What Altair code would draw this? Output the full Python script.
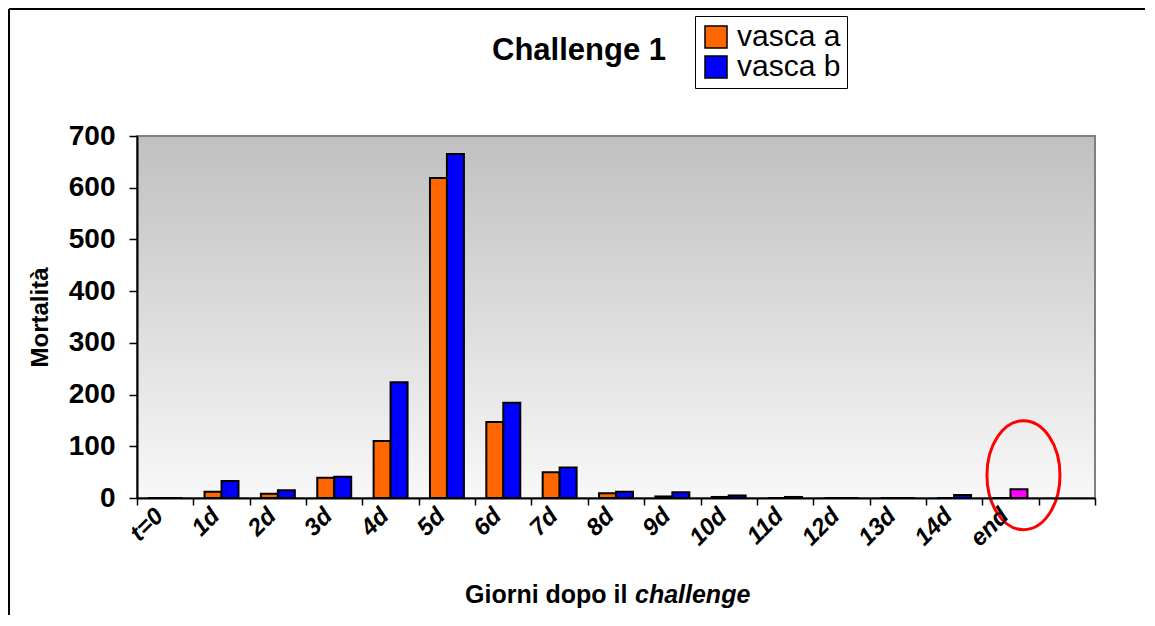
import altair as alt
import pandas as pd

# ---- data ----
categories = ["t=0", "1d", "2d", "3d", "4d", "5d", "6d", "7d", "8d", "9d",
              "10d", "11d", "12d", "13d", "14d", "end", " "]
vasca_a = [0, 12, 8, 39, 110, 619, 147, 50, 9, 3, 2, 0, 0, 0, 0, 0]
vasca_b = [0, 33, 15, 41, 224, 665, 184, 59, 12, 11, 5, 2, 0, 0, 6, 17]
series = ["vasca a", "vasca b"]
highlight_cat = "end"          # bar of "vasca b" drawn in magenta
highlight_key = "evidenziato"
colors = ["#ff6600", "#0000ff", "#ff00ff"]
y_ticks = [0, 100, 200, 300, 400, 500, 600, 700]
circle_cat = ["end"]
circle_val = [44]

FONT = "Liberation Sans"
W, H = 958, 362

rows = []
for cat, a, b in zip(categories, vasca_a, vasca_b):
    rows.append({"cat": cat, "serie": "vasca a", "key": "vasca a", "value": a})
    kb = highlight_key if cat == highlight_cat else "vasca b"
    rows.append({"cat": cat, "serie": "vasca b", "key": kb, "value": b})
df = pd.DataFrame(rows)

x_enc = alt.X("cat:N",
              scale=alt.Scale(domain=categories, paddingInner=0, paddingOuter=0),
              axis=alt.Axis(title=None, labelAngle=-45, labelAlign="right",
                            labelBaseline="middle", labelFont=FONT, labelFontSize=24,
                            labelFontWeight="bold", labelFontStyle="italic",
                            labelColor="black", labelPadding=7, labelOffset=-6,
                            ticks=True, tickBand="extent",
                            tickSize=7, tickWidth=1.5, tickColor="black",
                            domainColor="black", domainWidth=2, grid=False, zindex=1))
y_enc = alt.Y("value:Q",
              scale=alt.Scale(domain=[0, 700], nice=False),
              axis=alt.Axis(values=y_ticks, title="Mortalità", titleFont=FONT,
                            titleFontSize=24, titleFontWeight="bold", titleColor="black",
                            titlePadding=16, labelFont=FONT, labelFontSize=28,
                            labelFontWeight="bold", labelColor="black", labelPadding=14,
                            ticks=True, tickSize=8, tickWidth=1.5, tickColor="black",
                            domainColor="black", domainWidth=2, grid=False, zindex=1))

background = alt.Chart(pd.DataFrame({"a": [0]})).mark_rect(
    fill=alt.LinearGradient(gradient="linear",
                            stops=[alt.GradientStop(offset=0, color="#c0c0c0"),
                                   alt.GradientStop(offset=1, color="#f8f8f8")],
                            x1=0, x2=0, y1=0, y2=1),
    stroke="#808080", strokeWidth=2
).encode(x=alt.value(0), x2=alt.value(W), y=alt.value(0), y2=alt.value(H))

bars = alt.Chart(df).mark_bar(stroke="black", strokeWidth=2).encode(
    x=x_enc,
    xOffset=alt.XOffset("serie:N", scale=alt.Scale(domain=series, paddingInner=0,
                                                   paddingOuter=0.66)),
    y=y_enc,
    color=alt.Color("key:N",
                    scale=alt.Scale(domain=series + [highlight_key], range=colors),
                    legend=alt.Legend(values=series, title=None, orient="none",
                                      legendX=558, legendY=-120, strokeColor="black",
                                      fillColor="white", padding=6, symbolType="square",
                                      symbolSize=484, symbolStrokeColor="black",
                                      symbolStrokeWidth=1.5, labelFont=FONT,
                                      labelFontSize=30, labelColor="black",
                                      rowPadding=0, labelOffset=6)),
)

ellipse = alt.Chart(pd.DataFrame({"cat": circle_cat, "value": circle_val})).mark_point(
    shape="M -0.67 0 A 0.67 1 0 1 1 0.67 0 A 0.67 1 0 1 1 -0.67 0 Z",
    size=11881, filled=False, stroke="#ff0000", strokeWidth=3, opacity=1, xOffset=13
).encode(x=alt.X("cat:N"), y=alt.Y("value:Q"))

title = alt.Chart(pd.DataFrame({"t": ["Challenge 1"]})).mark_text(
    font=FONT, fontSize=31, fontWeight="bold", color="black", align="left",
    baseline="alphabetic"
).encode(text="t:N", x=alt.value(355), y=alt.value(-76))

xt1 = alt.Chart(pd.DataFrame({"t": ["Giorni dopo il"]})).mark_text(
    font=FONT, fontSize=25, fontWeight="bold", color="black", align="left",
    baseline="alphabetic"
).encode(text="t:N", x=alt.value(328), y=alt.value(467))
xt2 = alt.Chart(pd.DataFrame({"t": ["challenge"]})).mark_text(
    font=FONT, fontSize=25, fontWeight="bold", fontStyle="italic", color="black",
    align="left", baseline="alphabetic"
).encode(text="t:N", x=alt.value(498), y=alt.value(467))

frame_left = alt.Chart(pd.DataFrame({"a": [0]})).mark_rule(color="black", strokeWidth=2).encode(
    x=alt.value(-128), y=alt.value(-127), y2=alt.value(479))
frame_top = alt.Chart(pd.DataFrame({"a": [0]})).mark_rule(color="black", strokeWidth=2).encode(
    x=alt.value(-128), x2=alt.value(1008), y=alt.value(-127))

chart = alt.layer(background, bars, ellipse, title, xt1, xt2, frame_left, frame_top).properties(
    width=W, height=H, padding=0, background="white"
).configure_view(stroke=None)

chart.save("out.html", embed_options={"renderer": "svg", "actions": False})
